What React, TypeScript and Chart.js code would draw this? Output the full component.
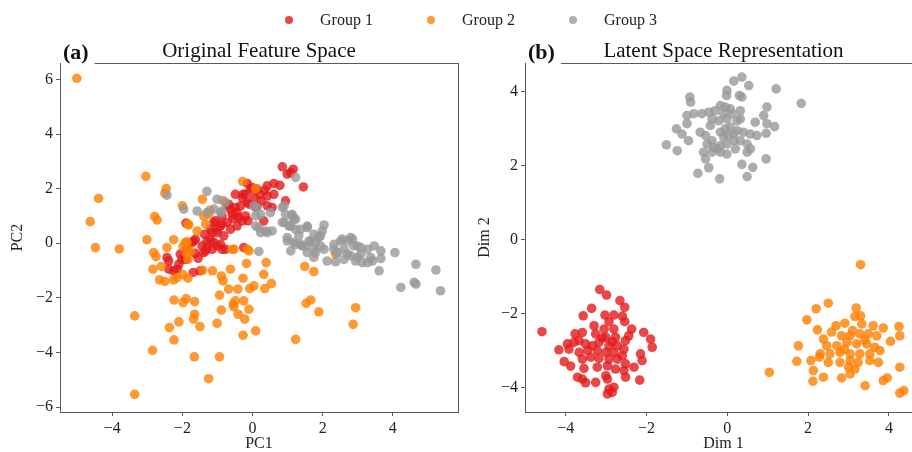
import React, { useEffect, useRef } from 'react';
import { Chart, registerables } from 'chart.js';

Chart.register(...registerables);

const FONT = "'Liberation Serif', 'Times New Roman', serif";
const SPINE = '#5a5a5a';
const TEXT = '#222222';

const GROUP_NAMES = ['Group 1', 'Group 2', 'Group 3'];
const GROUP_COLORS = ['rgba(228,26,28,0.8)', 'rgba(255,127,0,0.8)', 'rgba(153,153,153,0.8)'];

const PANEL_LABELS = ['(a)', '(b)'];
const PANEL_TITLES = ['Original Feature Space', 'Latent Space Representation'];
const X_TITLES = ['PC1', 'Dim 1'];
const Y_TITLES = ['PC2', 'Dim 2'];

const A_X_TICKS = [-4, -2, 0, 2, 4];
const A_Y_TICKS = [-6, -4, -2, 0, 2, 4, 6];
const B_X_TICKS = [-4, -2, 0, 2, 4];
const B_Y_TICKS = [-4, -2, 0, 2, 4];

const A_X_RANGE = [-5.49, 5.86];
const A_Y_RANGE = [-6.18, 6.6];
const B_X_RANGE = [-5.01, 4.82];
const B_Y_RANGE = [-4.65, 4.78];

// Panel (a): Original feature space
const A_G1: number[][] = [
  [0.85, 2.8], [1.16, 2.71], [1.09, 2.59], [0.99, 2.53], [1.45, 2.06], [0.94, 1.55], [0.78, 2.12], [0.61, 2.19],
  [0.42, 2.1], [0.35, 1.94], [0.61, 1.79], [0.42, 1.73], [0.21, 1.79], [0.13, 1.98], [-0.06, 1.98], [-0.15, 2.19],
  [-0.27, 1.79], [0.04, 1.67], [-0.15, 1.49], [0.13, 1.37], [0.42, 1.37], [0.56, 1.31], [-0.34, 1.37], [-0.44, 1.12],
  [-0.63, 1.25], [-0.72, 1.37], [-0.13, 0.82], [-0.2, 1.0], [0.32, 0.82], [-0.87, 1.0], [-0.72, 0.76], [-0.91, 0.63],
  [-1.1, 0.76], [-1.2, 0.51], [-1.01, 0.39], [-0.63, 0.51], [-0.82, 0.27], [-1.37, 0.33], [-1.3, 0.08], [-1.44, -0.1],
  [-1.1, 0.03], [-0.91, -0.04], [-1.15, -0.22], [-1.9, 0.74], [-1.68, 0.08], [-1.87, -0.22], [-0.25, -0.16],
  [-2.44, -0.52], [-2.39, -0.65], [-2.06, -0.4], [-2.01, -0.59], [-2.39, -0.95], [-2.25, -1.01], [-2.15, -0.95],
  [-1.69, -1.07], [-1.49, -1.01], [-1.63, -0.37], [-1.39, -0.34], [-1.3, -0.16], [-0.87, -0.22], [-1.01, -0.1],
  [-2.1, -0.77], [-1.91, -0.59], [-1.72, 0.03], [-1.63, 0.14], [-1.15, 0.39], [-1.2, 0.14], [-1.01, 0.51],
  [-1.06, 0.82], [-0.87, 0.7], [-1.34, -0.28], [-0.77, -0.22], [-0.68, 1.43], [-0.49, 1.31], [-0.58, 1.06],
  [-0.39, 0.94], [-0.29, 0.82], [-0.44, 0.63], [-0.2, 1.79], [-0.01, 2.04], [-0.1, 1.43], [0.09, 1.31],
  [-0.49, 1.79], [-0.29, 1.67], [-1.55, -0.55], [-0.55, 0.9], [0.25, 1.55]
];
const A_G2: number[][] = [
  [-5.01, 6.04], [-3.04, 2.45], [-4.39, 1.64], [-4.63, 0.79], [-4.48, -0.16], [-3.8, -0.21], [-3.01, 0.13],
  [-2.46, 2.0], [-2.5, 1.83], [-2.79, 0.98], [-2.72, 0.85], [-2.25, 0.13], [-2.0, 1.37], [-1.82, 0.67], [-1.43, 1.61],
  [-0.28, 2.26], [-0.84, 1.56], [-1.39, 1.0], [-1.87, 0.04], [-0.1, -0.28], [0.09, 2.0], [-2.82, -0.34],
  [-2.75, -0.49], [-2.44, -0.16], [-1.98, -0.12], [-1.84, -0.59], [-2.84, -0.95], [-2.6, -0.85], [-2.65, -1.34],
  [-2.5, -1.4], [-2.25, -1.34], [-2.15, -1.26], [-1.98, -1.15], [-1.84, -1.28], [-1.42, -0.99], [-1.14, -1.01],
  [-0.89, -1.2], [-0.84, -1.38], [-0.63, -0.95], [-0.68, -1.68], [-0.42, -1.68], [-0.27, -1.28], [-0.17, -0.74],
  [-0.08, -1.66], [0.32, -1.14], [0.39, -0.71], [0.35, -1.66], [0.54, -1.48], [-0.53, -0.22], [-2.24, -2.08],
  [-1.98, -2.17], [-1.89, -2.03], [-1.65, -2.14], [-1.65, -2.6], [-1.68, -2.78], [-1.5, -3.05], [-2.37, -3.09],
  [-2.1, -2.88], [-2.24, -3.54], [-3.36, -2.66], [-2.85, -3.92], [-1.66, -4.16], [-0.94, -4.16], [-1.25, -4.96],
  [-3.36, -5.53], [-0.94, -1.9], [-0.89, -2.45], [-1.01, -2.93], [-0.55, -2.23], [-0.49, -2.11], [-0.53, -2.33],
  [-0.25, -2.11], [-0.41, -2.6], [-0.22, -2.78], [-0.1, -2.42], [-0.27, -3.37], [0.09, -3.21], [1.49, -0.85],
  [1.75, -1.04], [1.53, -2.2], [1.66, -2.08], [1.89, -2.51], [1.23, -3.52], [2.94, -2.36], [2.87, -2.97],
  [2.37, -0.4], [-1.84, 0.7], [-1.34, 0.7], [-1.25, 1.06], [-1.58, 0.45], [-1.22, 1.21], [-1.91, 0.03],
  [-1.77, -0.28], [-1.87, -0.4], [-0.58, -0.22], [-0.15, -0.22], [0.04, -1.56]
];
const A_G3: number[][] = [
  [-1.3, 1.9], [-1.01, 1.61], [-1.96, 1.25], [-1.58, 1.18], [-1.3, 1.12], [-0.91, 1.12], [-1.1, 1.25], [-2.44, 1.76],
  [-0.87, 1.18], [-0.77, 1.49], [0.04, 1.37], [0.23, 1.06], [0.09, 1.0], [0.51, 1.12], [1.23, 2.41], [0.9, 1.37],
  [0.85, 0.76], [0.94, 1.06], [1.13, 1.06], [1.18, 0.88], [1.04, 0.63], [0.09, 0.63], [0.23, 0.39], [0.42, 0.39],
  [0.56, 0.45], [0.37, 0.45], [0.18, 0.57], [1.37, 0.51], [1.56, 0.57], [1.32, 0.27], [0.99, 0.21], [2.04, 0.67],
  [1.75, 0.33], [1.94, 0.27], [1.99, 0.45], [1.18, 0.03], [1.37, -0.04], [1.51, -0.1], [1.66, 0.08], [1.8, 0.03],
  [1.94, -0.1], [2.04, -0.22], [1.75, -0.22], [2.32, -0.04], [2.51, 0.08], [2.71, 0.08], [2.85, 0.15], [2.32, -0.22],
  [2.61, -0.22], [2.89, -0.1], [3.09, -0.16], [3.28, -0.22], [3.47, -0.1], [3.66, -0.28], [4.06, -0.34],
  [0.18, -0.3], [0.99, 0.08], [1.09, -0.28], [1.42, -0.1], [1.56, -0.34], [1.8, -0.34], [1.75, -0.52],
  [2.13, -0.65], [2.37, -0.68], [2.61, -0.59], [2.42, -0.34], [2.8, -0.46], [2.99, -0.52], [3.13, -0.71],
  [3.28, -0.71], [3.37, -0.52], [3.66, -0.56], [3.61, -1.01], [4.66, -0.77], [4.23, -1.62], [4.61, -1.43],
  [4.66, -1.5], [5.23, -0.98], [5.36, -1.74], [1.13, 1.0], [1.23, 0.88], [0.91, 0.76], [1.09, 0.63], [1.23, 0.51],
  [1.56, 0.63], [1.23, -0.04], [1.61, 0.08], [1.89, 0.21], [2.56, 0.15], [2.8, 0.21], [2.99, -0.1], [3.09, -0.4],
  [3.42, -0.65], [2.94, -0.65], [2.71, -0.4], [0.13, 1.31], [0.85, 1.31]
];

// Panel (b): Latent space
const B_G1: number[][] = [
  [-3.16, -1.34], [-2.99, -1.49], [-2.66, -1.64], [-2.54, -1.82], [-3.36, -1.85], [-3.57, -2.05], [-3.03, -2.03],
  [-2.81, -2.03], [-2.6, -2.06], [-2.93, -2.21], [-2.54, -2.21], [-4.59, -2.48], [-3.77, -2.54], [-3.59, -2.5],
  [-3.3, -2.32], [-3.05, -2.41], [-2.81, -2.41], [-2.37, -2.41], [-2.07, -2.5], [-1.9, -2.68], [-1.86, -2.9],
  [-3.26, -2.54], [-3.01, -2.63], [-2.77, -2.63], [-2.52, -2.72], [-2.44, -2.59], [-3.96, -2.81], [-4.17, -2.97],
  [-3.8, -2.77], [-3.67, -2.72], [-3.51, -2.81], [-3.34, -2.86], [-3.18, -2.77], [-2.93, -2.86], [-2.72, -2.86],
  [-2.56, -2.95], [-3.92, -2.95], [-3.67, -3.04], [-3.46, -2.99], [-3.22, -2.99], [-3.01, -3.04], [-2.81, -3.04],
  [-2.6, -3.13], [-2.15, -3.08], [-2.11, -3.26], [-4.04, -3.29], [-3.88, -3.41], [-3.59, -3.22], [-3.38, -3.17],
  [-3.18, -3.2], [-2.93, -3.22], [-2.72, -3.22], [-2.52, -3.35], [-2.31, -3.44], [-3.55, -3.47], [-3.22, -3.44],
  [-2.97, -3.4], [-2.77, -3.49], [-2.56, -3.53], [-3.71, -3.71], [-3.59, -3.76], [-3.51, -3.86], [-3.26, -3.85],
  [-3.01, -3.67], [-2.97, -3.76], [-2.52, -3.71], [-2.17, -3.79], [-2.93, -4.03], [-2.85, -4.12], [-2.81, -3.98],
  [-2.97, -4.16], [-3.1, -2.65], [-2.85, -2.75]
];
const B_G2: number[][] = [
  [3.3, -0.67], [2.5, -1.71], [2.2, -1.86], [3.19, -1.84], [1.97, -2.16], [3.16, -2.07], [3.3, -2.05], [2.23, -2.43],
  [2.69, -2.32], [2.91, -2.25], [3.33, -2.27], [3.61, -2.32], [3.86, -2.38], [4.25, -2.34], [4.27, -2.59],
  [4.04, -2.74], [1.76, -2.86], [2.38, -2.68], [2.58, -2.49], [2.83, -2.59], [3.04, -2.59], [3.28, -2.54],
  [3.49, -2.54], [3.7, -2.59], [2.46, -2.86], [2.71, -2.86], [2.96, -2.77], [3.2, -2.81], [3.45, -2.81],
  [3.65, -2.9], [3.78, -2.99], [2.3, -3.08], [2.54, -3.08], [2.79, -3.04], [3.04, -3.08], [3.28, -3.08],
  [3.53, -3.08], [1.72, -3.28], [2.07, -3.26], [2.28, -3.17], [2.5, -3.31], [2.79, -3.31], [3.04, -3.26],
  [3.24, -3.31], [3.53, -3.26], [3.74, -3.31], [3.0, -3.44], [3.16, -3.49], [2.13, -3.53], [4.27, -3.44],
  [2.38, -3.71], [2.83, -3.73], [3.04, -3.62], [2.12, -3.82], [1.04, -3.58], [3.41, -3.94], [3.86, -3.8],
  [3.96, -3.73], [4.27, -4.14], [4.37, -4.07], [3.1, -2.45], [2.9, -2.95], [3.4, -2.7]
];
const B_G3: number[][] = [
  [0.16, 4.29], [0.36, 4.4], [0.53, 4.17], [-0.01, 4.04], [-0.02, 3.9], [0.3, 3.9], [0.36, 3.86], [1.21, 4.08],
  [1.83, 3.69], [-0.93, 3.86], [-0.91, 3.72], [-1.0, 3.36], [-0.83, 3.41], [-0.63, 3.41], [-0.46, 3.45],
  [-0.3, 3.49], [-0.17, 3.63], [-0.05, 3.59], [0.07, 3.54], [-0.09, 3.41], [0.12, 3.41], [0.32, 3.49],
  [-0.38, 3.27], [-0.42, 3.09], [-0.21, 3.22], [-0.01, 3.27], [0.24, 3.22], [0.32, 3.27], [0.98, 3.59],
  [0.9, 3.36], [0.69, 3.18], [0.98, 3.14], [1.17, 3.06], [-1.26, 3.0], [-1.12, 2.86], [-1.0, 3.14], [-0.96, 2.68],
  [-0.67, 2.91], [-0.54, 2.82], [-0.38, 2.68], [-0.17, 2.91], [-0.05, 3.0], [0.07, 3.05], [0.24, 2.95],
  [0.4, 2.91], [0.57, 2.86], [0.73, 2.82], [0.96, 2.88], [-1.51, 2.57], [-1.24, 2.41], [-0.5, 2.59], [-0.34, 2.5],
  [-0.17, 2.55], [-0.01, 2.59], [0.16, 2.68], [0.32, 2.68], [0.49, 2.59], [-0.59, 2.37], [-0.38, 2.37],
  [-0.17, 2.37], [-0.01, 2.32], [0.2, 2.46], [0.49, 2.37], [-0.54, 2.19], [-0.46, 1.95], [-0.73, 1.8],
  [-0.19, 1.65], [0.36, 2.04], [0.63, 1.96], [0.49, 1.71], [0.96, 2.19], [-0.09, 2.78], [0.03, 2.82],
  [0.16, 2.86], [-0.25, 2.46], [0.57, 2.46]
];

function fmt(v: number): string {
  return v < 0 ? '\u2212' + Math.abs(v) : String(v);
}

function axis(
  pos: 'bottom' | 'left',
  range: number[],
  ticks: number[],
  title: string,
  thickness: number,
  titlePad: number
) {
  return {
    type: 'linear',
    position: pos,
    min: range[0],
    max: range[1],
    afterBuildTicks: (s: any) => {
      s.ticks = ticks.map((v) => ({ value: v }));
    },
    afterFit: (s: any) => {
      if (pos === 'bottom') s.height = thickness;
      else s.width = thickness;
    },
    grid: { drawOnChartArea: false, drawTicks: true, tickLength: 4, color: SPINE, lineWidth: 1 },
    border: { display: true, color: SPINE, width: 1 },
    ticks: {
      callback: (v: any) => fmt(Number(v)),
      font: { family: FONT, size: 16 },
      color: TEXT,
      padding: 3,
      maxRotation: 0,
      autoSkip: false,
    },
    title: {
      display: true,
      text: title,
      font: { family: FONT, size: 16, lineHeight: 1 },
      color: TEXT,
      padding: { top: titlePad, bottom: titlePad },
    },
  };
}

const panelPlugin = {
  id: 'panelDecor',
  beforeDatasetsDraw(chart: any) {
    const { ctx, chartArea } = chart;
    const { left, top, right, bottom } = chartArea;
    ctx.save();
    ctx.strokeStyle = SPINE;
    ctx.lineWidth = 1;
    ctx.beginPath();
    ctx.moveTo(left, Math.round(top) + 0.5);
    ctx.lineTo(Math.round(right) + 0.5, Math.round(top) + 0.5);
    ctx.moveTo(Math.round(right) + 0.5, top);
    ctx.lineTo(Math.round(right) + 0.5, bottom);
    ctx.stroke();
    ctx.restore();
  },
  afterDraw(chart: any, _a: any, opts: any) {
    const { ctx, chartArea } = chart;
    const { left, top, right } = chartArea;
    ctx.save();
    // panel label with white box
    ctx.font = `bold 22px ${FONT}`;
    const w = ctx.measureText(opts.label).width;
    ctx.fillStyle = '#ffffff';
    ctx.fillRect(left + 1, top - 24, w + 8, 28);
    ctx.fillStyle = '#111111';
    ctx.textAlign = 'left';
    ctx.textBaseline = 'alphabetic';
    ctx.fillText(opts.label, left + 3, top - 4);
    // title
    ctx.font = `21px ${FONT}`;
    ctx.textAlign = 'center';
    ctx.fillText(opts.title, (left + right) / 2, top - 6);
    ctx.restore();
  },
};

function buildConfig(
  idx: number,
  groups: number[][][],
  xr: number[],
  yr: number[],
  xt: number[],
  yt: number[],
  yAxisWidth: number,
  padRight: number,
  yTitlePad: number
): any {
  return {
    type: 'scatter',
    data: {
      datasets: groups.map((g, i) => ({
        label: GROUP_NAMES[i],
        data: g.map((p) => ({ x: p[0], y: p[1] })),
        backgroundColor: GROUP_COLORS[i],
        borderWidth: 0,
        pointRadius: 4.8,
        pointHoverRadius: 4.8,
        order: 3 - i,
      })),
    },
    options: {
      responsive: false,
      animation: false,
      devicePixelRatio: 1,
      events: [],
      layout: { padding: { top: 63, right: padRight, bottom: 0, left: 0 } },
      plugins: {
        legend: { display: false },
        tooltip: { enabled: false },
        panelDecor: { label: PANEL_LABELS[idx], title: PANEL_TITLES[idx] },
      },
      scales: {
        x: axis('bottom', xr, xt, X_TITLES[idx], 40, 0),
        y: axis('left', yr, yt, Y_TITLES[idx], yAxisWidth, yTitlePad),
      },
    },
    plugins: [panelPlugin],
  };
}

export default function App() {
  const leftRef = useRef<HTMLCanvasElement>(null);
  const rightRef = useRef<HTMLCanvasElement>(null);

  useEffect(() => {
    const a = new Chart(
      leftRef.current as HTMLCanvasElement,
      buildConfig(0, [A_G1, A_G2, A_G3], A_X_RANGE, A_Y_RANGE, A_X_TICKS, A_Y_TICKS, 60, 12, 10)
    );
    const b = new Chart(
      rightRef.current as HTMLCanvasElement,
      buildConfig(1, [B_G1, B_G2, B_G3], B_X_RANGE, B_Y_RANGE, B_X_TICKS, B_Y_TICKS, 55, 18, 7)
    );
    return () => {
      a.destroy();
      b.destroy();
    };
  }, []);

  const legendStart = 289;
  const legendPitch = 142;

  return (
    <div
      style={{
        position: 'fixed',
        left: 0,
        top: 0,
        width: 912,
        height: 452,
        overflow: 'hidden',
        background: '#ffffff',
        fontFamily: FONT,
      }}
    >
      <canvas ref={leftRef} width={470} height={452} style={{ position: 'absolute', left: 0, top: 0 }} />
      <canvas ref={rightRef} width={470} height={452} style={{ position: 'absolute', left: 470, top: 0 }} />
      {GROUP_NAMES.map((name, i) => (
        <div
          key={name}
          style={{
            position: 'absolute',
            left: legendStart + i * legendPitch - 4,
            top: 9,
            height: 22,
            display: 'flex',
            alignItems: 'center',
            whiteSpace: 'nowrap',
          }}
        >
          <span
            style={{
              display: 'inline-block',
              width: 8,
              height: 8,
              borderRadius: '50%',
              background: GROUP_COLORS[i],
              marginRight: 27,
            }}
          />
          <span style={{ fontSize: 16, color: TEXT, lineHeight: '22px' }}>{name}</span>
        </div>
      ))}
    </div>
  );
}
